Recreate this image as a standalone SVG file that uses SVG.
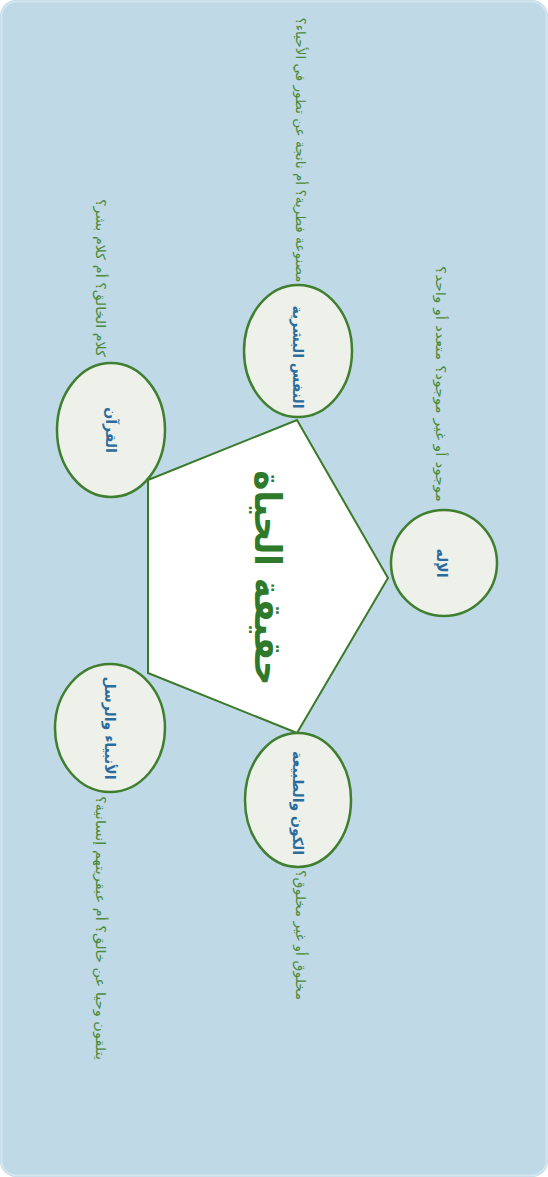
<svg xmlns="http://www.w3.org/2000/svg" width="548" height="1177" viewBox="0 0 548 1177">
<style>
.node ellipse{fill:#eef0ea;stroke:#3f7f2f;stroke-width:2.5}
.lbl{font-family:"DejaVu Sans",sans-serif;font-size:14px;font-weight:bold;fill:#2b6c9c;text-anchor:middle;dominant-baseline:central}
.q{font-family:"DejaVu Sans",sans-serif;font-size:13px;fill:#4b8a3a;text-anchor:middle;dominant-baseline:central}
.title{font-family:"DejaVu Sans",sans-serif;font-size:37px;font-weight:bold;fill:#2f7a2a;text-anchor:middle;dominant-baseline:central}
</style>
<rect x="0" y="0" width="548" height="1177" rx="16" fill="#bfd9e7"/>
<rect x="1.5" y="1.5" width="545" height="1174" rx="15" fill="none" stroke="#d3e6ef" stroke-width="2"/>
<g id="center">
<polygon points="297,420 388,578 297,733 148,673 148,480" fill="#ffffff" stroke="#3a7a2a" stroke-width="2"/>
<text class="title" transform="translate(267,578) rotate(90)" textLength="215" lengthAdjust="spacingAndGlyphs">حقيقة الحياة</text>
</g>
<g id="connectors"></g>
<g id="n-nafs" class="node">
<ellipse cx="298" cy="351" rx="54" ry="66"/>
<text class="lbl" transform="translate(298,357) rotate(90)">النفس البشرية</text>
<text class="q" transform="translate(300,150) rotate(90)" textLength="265" lengthAdjust="spacingAndGlyphs">مصنوعة فطرية؟ أم ناتجة عن تطور في الأحياء؟</text>
</g>
<g id="n-quran" class="node">
<ellipse cx="111" cy="430" rx="54" ry="67"/>
<text class="lbl" transform="translate(111,430) rotate(90)">القرآن</text>
<text class="q" transform="translate(100,278) rotate(90)" textLength="158" lengthAdjust="spacingAndGlyphs">كلام الخالق؟ أم كلام بشر؟</text>
</g>
<g id="n-ilah" class="node">
<ellipse cx="444" cy="563" rx="53" ry="53"/>
<text class="lbl" transform="translate(442,563) rotate(90)">الإله</text>
<text class="q" transform="translate(440,384) rotate(90)" textLength="236" lengthAdjust="spacingAndGlyphs">موجود أو غير موجود؟ متعدد أو واحد؟</text>
</g>
<g id="n-kawn" class="node">
<ellipse cx="298" cy="800" rx="53" ry="67"/>
<text class="lbl" transform="translate(298,803) rotate(90)">الكون والطبيعة</text>
<text class="q" transform="translate(300,935) rotate(90)" textLength="130" lengthAdjust="spacingAndGlyphs">مخلوق أو غير مخلوق؟</text>
</g>
<g id="n-anbiya" class="node">
<ellipse cx="110" cy="728" rx="55" ry="64"/>
<text class="lbl" transform="translate(110,728) rotate(90)">الأنبياء والرسل</text>
<text class="q" transform="translate(100,928) rotate(90)" textLength="264" lengthAdjust="spacingAndGlyphs">يتلقون وحيا عن خالق؟ أم عبقريتهم إنسانية؟</text>
</g>
</svg>
